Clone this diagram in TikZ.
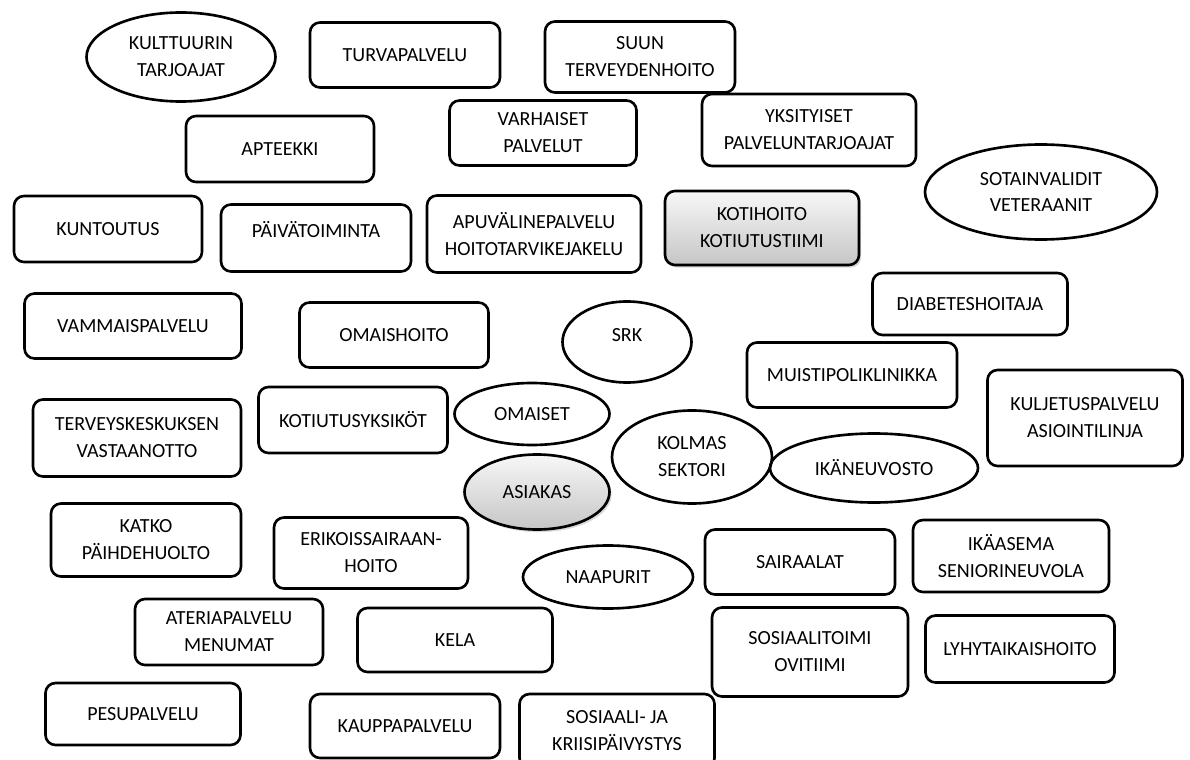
\documentclass[tikz,border=0pt]{standalone}
\usepackage{fontspec}
\setmainfont{Carlito}
\usetikzlibrary{shapes,shadows}

\begin{document}
\begin{tikzpicture}[x=0.02cm,y=-0.02cm,
    every node/.style={font=\fontsize{11.4}{15.3}\selectfont,align=center,inner sep=0pt,line width=1.5pt},
    service/.style={rounded corners=0.2cm,draw},
    actor/.style={ellipse,draw},
    core/.style={top color=gray!6,bottom color=gray!45,drop shadow={opacity=0.3,shadow xshift=1.2pt,shadow yshift=-1.5pt}},
    wh/.style 2 args={minimum width=#1*0.02cm,minimum height=#2*0.02cm}]

    \clip (0,0) rectangle (1190,760);

    % top rows
    \node[actor,wh={189}{89}] (KULTTUURI) at (181,57) {KULTTUURIN\\TARJOAJAT};
    \node[service,wh={190}{65}] (TURVA) at (405,55) {TURVAPALVELU};
    \node[service,wh={190}{71}] (SUUN) at (640,57) {SUUN\\TERVEYDENHOITO};
    \node[service,wh={188}{66}] (APTEEKKI) at (280,149) {APTEEKKI};
    \node[service,wh={187}{65}] (VARHAISET) at (543,133) {VARHAISET\\PALVELUT};
    \node[service,wh={214}{72}] (YKSITYISET) at (809,130) {YKSITYISET\\PALVELUNTARJOAJAT};
    \node[actor,wh={232}{95}] (SOTAINVALIDIT) at (1041,192) {SOTAINVALIDIT\\VETERAANIT};

    \node[service,wh={188}{66}] (KUNTOUTUS) at (108,229) {KUNTOUTUS};
    \node[service,wh={190}{67}] (PAIVATOIMINTA) at (316,238) {\raisebox{10pt}{PÄIVÄTOIMINTA}};
    \node[service,wh={214}{77}] (APUVALINE) at (534,234) {APUVÄLINEPALVELU\\HOITOTARVIKEJAKELU};
    \node[service,core,wh={194}{74}] (KOTIHOITO) at (762,228) {KOTIHOITO\\KOTIUTUSTIIMI};

    % middle
    \node[service,wh={195}{62}] (DIABETES) at (970,304) {DIABETESHOITAJA};
    \node[service,wh={217}{65}] (VAMMAIS) at (133,326) {VAMMAISPALVELU};
    \node[service,wh={189}{65}] (OMAISHOITO) at (394,335) {OMAISHOITO};
    \node[actor,wh={129}{81}] (SRK) at (627,342) {\raisebox{8pt}{SRK}};
    \node[service,wh={210}{65}] (MUISTI) at (852,375) {MUISTIPOLIKLINIKKA};
    \node[service,wh={195}{96}] (KULJETUS) at (1085,418) {KULJETUSPALVELU\\ASIOINTILINJA};
    \node[service,wh={208}{77}] (TK) at (137,438) {TERVEYSKESKUKSEN\\VASTAANOTTO};
    \node[service,wh={189}{66}] (KOTIUTUS) at (353,420) {KOTIUTUSYKSIKÖT};
    \node[actor,wh={155}{62}] (OMAISET) at (532,414) {OMAISET};
    \node[actor,wh={160}{93}] (KOLMAS) at (692,457) {KOLMAS\\SEKTORI};
    \node[actor,wh={208}{69}] (IKANEUVOSTO) at (874,468) {IKÄNEUVOSTO};
    \node[actor,core,wh={145}{75}] (ASIAKAS) at (537,492) {ASIAKAS};

    % bottom rows
    \node[service,wh={190}{73}] (KATKO) at (146,540) {KATKO\\PÄIHDEHUOLTO};
    \node[service,wh={194}{71}] (ERIKOIS) at (371,553) {ERIKOISSAIRAAN-\\HOITO};
    \node[actor,wh={170}{63}] (NAAPURIT) at (608,577) {NAAPURIT};
    \node[service,wh={190}{65}] (SAIRAALAT) at (800,562) {SAIRAALAT};
    \node[service,wh={196}{72}] (IKAASEMA) at (1011,556) {IKÄASEMA\\SENIORINEUVOLA};
    \node[service,wh={188}{66}] (ATERIA) at (229,632) {ATERIAPALVELU\\MENUMAT};
    \node[service,wh={195}{64}] (KELA) at (455,640) {KELA};
    \node[service,wh={196}{89}] (SOSIAALITOIMI) at (810,652) {SOSIAALITOIMI\\OVITIIMI};
    \node[service,wh={189}{67}] (LYHYT) at (1020,649) {LYHYTAIKAISHOITO};
    \node[service,wh={195}{62}] (PESU) at (143,714) {PESUPALVELU};
    \node[service,wh={190}{64}] (KAUPPA) at (405,726) {KAUPPAPALVELU};
    \node[service,wh={195}{74}] (KRIISI) at (617,731) {SOSIAALI- JA\\KRIISIPÄIVYSTYS};
  \end{tikzpicture}
\end{document}
